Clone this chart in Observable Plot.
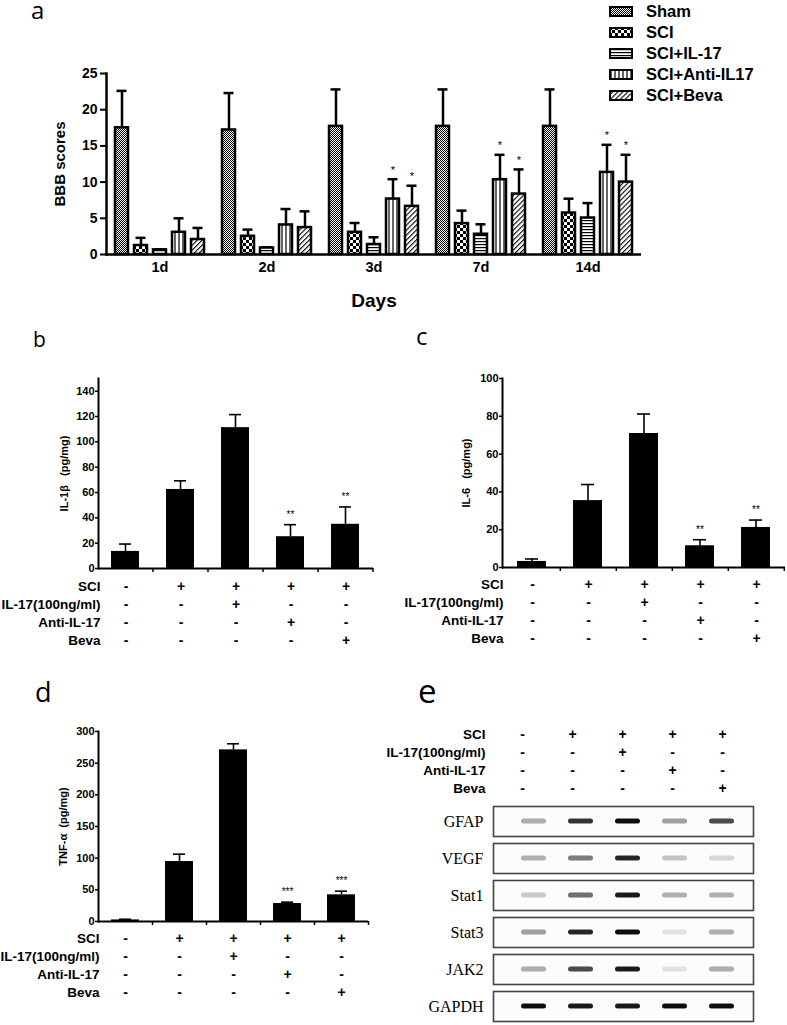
<!DOCTYPE html>
<html><head><meta charset="utf-8">
<script src="https://cdn.jsdelivr.net/npm/d3@7"></script>
<script src="https://cdn.jsdelivr.net/npm/@observablehq/plot@0.6"></script>
<style>
body{margin:0;background:#fff;}
#page{position:relative;width:787px;height:1025px;overflow:hidden;background:#fff;font-family:"Liberation Sans",Arial,sans-serif;}
#page svg{position:absolute;}
#legend{position:absolute;left:609px;top:1px;}
#legend .row{display:flex;align-items:center;height:21px;font-weight:bold;font-size:16.5px;}
#legend .row svg{position:static;margin-right:13px;}
</style></head><body>
<svg width="0" height="0" style="position:absolute">
<defs>
<pattern id="p-sham" width="2" height="2" patternUnits="userSpaceOnUse"><rect width="2" height="2" fill="#fff"/><rect width="1" height="1" fill="#000"/><rect x="1" y="1" width="1" height="1" fill="#000"/></pattern>
<pattern id="p-sci" width="6" height="6" patternUnits="userSpaceOnUse"><rect width="6" height="6" fill="#fff"/><rect width="3" height="3" fill="#000"/><rect x="3" y="3" width="3" height="3" fill="#000"/></pattern>
<pattern id="p-il17" width="3" height="3" patternUnits="userSpaceOnUse"><rect width="3" height="3" fill="#fff"/><rect y="1" width="3" height="1.2" fill="#000"/></pattern>
<pattern id="p-anti" width="4" height="4" patternUnits="userSpaceOnUse"><rect width="4" height="4" fill="#fff"/><rect x="1.4" width="1.2" height="4" fill="#000"/></pattern>
<pattern id="p-beva" width="3.5" height="3.5" patternUnits="userSpaceOnUse" patternTransform="rotate(45)"><rect width="3.5" height="3.5" fill="#fff"/><rect width="1.1" height="3.5" fill="#000"/></pattern>
<filter id="blur" x="-20%" y="-100%" width="140%" height="300%"><feGaussianBlur stdDeviation="0.7"/></filter>
</defs></svg>
<div id="page"></div>
<script>
// ---------- data ----------
const days = ["1d", "2d", "3d", "7d", "14d"];
const groups = ["Sham", "SCI", "SCI+IL-17", "SCI+Anti-IL17", "SCI+Beva"];
const shamMean = [17.5, 17.2, 17.7, 17.7, 17.7];
const shamSd   = [5.1, 5.1, 5.1, 5.1, 5.1];
const sciMean  = [1.24, 2.52, 3.07, 4.27, 5.73];
const sciSd    = [1.06, 0.92, 1.28, 1.79, 1.98];
const il17Mean = [0.64, 0.9, 1.38, 2.8, 5.04];
const il17Sd   = [0.08, 0.1, 1.0, 1.37, 2.06];
const antiMean = [3.07, 4.08, 7.66, 10.33, 11.34];
const antiSd   = [1.93, 2.2, 2.74, 3.44, 3.81];
const bevaMean = [2.07, 3.72, 6.65, 8.35, 10.0];
const bevaSd   = [1.6, 2.24, 2.85, 3.4, 3.77];
const antiSig  = ["", "", "*", "*", "*"];
const bevaSig  = ["", "", "*", "*", "*"];
const bbbTicks = [0, 5, 10, 15, 20, 25];

const conditions = ["c1", "c2", "c3", "c4", "c5"];
const factors = ["SCI", "IL-17(100ng/ml)", "Anti-IL-17", "Beva"];
const sciSigns   = ["-", "+", "+", "+", "+"];
const il17Signs  = ["-", "-", "+", "-", "-"];
const antiSigns  = ["-", "-", "-", "+", "-"];
const bevaSigns  = ["-", "-", "-", "-", "+"];

const il1bMean = [13.5, 62.4, 111.2, 25.1, 34.9];
const il1bSd   = [5.8, 6.8, 10.3, 9.5, 13.7];
const il1bSig  = ["", "", "", "**", "**"];
const il1bTicks = [0, 20, 40, 60, 80, 100, 120, 140];

const il6Mean = [3.2, 35.4, 70.9, 11.5, 21.2];
const il6Sd   = [1.3, 8.5, 10.3, 3.2, 3.9];
const il6Sig  = ["", "", "", "**", "**"];
const il6Ticks = [0, 20, 40, 60, 80, 100];

const tnfMean = [2.5, 94.7, 271, 28.4, 42.1];
const tnfSd   = [1.0, 11.6, 9.6, 2.1, 5.8];
const tnfSig  = ["", "", "", "***", "***"];
const tnfTicks = [0, 50, 100, 150, 200, 250, 300];

const proteins = ["GFAP", "VEGF", "Stat1", "Stat3", "JAK2", "GAPDH"];
const lanes = ["L1", "L2", "L3", "L4", "L5"];
const gfapBand  = [0.35, 0.85, 1.0, 0.4, 0.75];
const vegfBand  = [0.3, 0.55, 0.9, 0.22, 0.15];
const stat1Band = [0.2, 0.6, 0.95, 0.3, 0.3];
const stat3Band = [0.4, 0.9, 1.0, 0.1, 0.35];
const jak2Band  = [0.35, 0.75, 0.95, 0.1, 0.35];
const gapdhBand = [1.0, 0.95, 0.95, 1.0, 1.0];

// ---------- helpers ----------
const FONT = '"Liberation Sans", Arial, sans-serif';
const page = document.getElementById("page");
function place(svg, left, top) { svg.style.left = left + "px"; svg.style.top = top + "px"; page.appendChild(svg); return svg; }
const baseStyle = {fontFamily: FONT, color: "black", background: "transparent", overflow: "visible"};

// ---------- panel a ----------
const means = [shamMean, sciMean, il17Mean, antiMean, bevaMean];
const sds = [shamSd, sciSd, il17Sd, antiSd, bevaSd];
const sigs = [days.map(() => ""), days.map(() => ""), days.map(() => ""), antiSig, bevaSig];
const bbb = [];
days.forEach((d, i) => groups.forEach((g, j) => bbb.push({day: d, g, m: means[j][i], e: means[j][i] + sds[j][i], s: sigs[j][i]})));
const patterns = ["url(#p-sham)", "url(#p-sci)", "url(#p-il17)", "url(#p-anti)", "url(#p-beva)"];

const chartA = Plot.plot({
  width: 787, height: 310, marginLeft: 105, marginRight: 146, marginTop: 73, marginBottom: 56,
  style: baseStyle,
  fx: {domain: days, padding: 0},
  x: {domain: groups, paddingInner: 0.333, paddingOuter: 0.415, axis: null},
  y: {domain: [0, 25]},
  color: {type: "ordinal", domain: groups, range: patterns},
  marks: [
    Plot.ruleX(bbb, {fx: "day", x: "g", y1: "m", y2: "e", strokeWidth: 2.5}),
    Plot.tickY(bbb, {fx: "day", x: "g", y: "e", strokeWidth: 2.5, insetLeft: 1.5, insetRight: 1.5}),
    Plot.barY(bbb, {fx: "day", x: "g", y: "m", fill: "g", stroke: "black", strokeWidth: 2.5}),
    Plot.text(bbb, {fx: "day", x: "g", y: "e", text: "s", dy: -9, fontSize: 11, fill: "black"}),
    Plot.ruleY([0], {strokeWidth: 2.5}),
    Plot.frame({anchor: "left", facetAnchor: "left", strokeWidth: 2.5}),
    Plot.axisY({ticks: bbbTicks, tickSize: 6, tickPadding: 3, strokeWidth: 2, fontSize: 14, fontWeight: "bold",
      label: "BBB scores", labelAnchor: "center", labelOffset: 52, labelArrow: "none"}),
    Plot.axisFx({anchor: "bottom", tickSize: 0, tickPadding: 7, fontSize: 14.5, fontWeight: "bold",
      label: "Days", labelAnchor: "center", labelOffset: 52, labelArrow: "none"})
  ]
});
place(chartA, 0, 0);
chartA.querySelectorAll('g[aria-label="fx-axis label"] text, g[aria-label="fx-axis label"]').forEach(n => n.setAttribute("font-size", 19));
chartA.querySelectorAll('g[aria-label="y-axis label"] text, g[aria-label="y-axis label"]').forEach(n => n.setAttribute("font-size", 15));

// legend
const legend = document.createElement("div");
legend.id = "legend";
groups.forEach((g, j) => {
  const row = document.createElement("div");
  row.className = "row";
  row.innerHTML = `<svg width="24" height="11"><rect x="1" y="1" width="22" height="9" fill="${patterns[j]}" stroke="black" stroke-width="2"/></svg><span>${g}</span>`;
  legend.appendChild(row);
});
page.appendChild(legend);

// ---------- panels b, c, d ----------
const signRows = [sciSigns, il17Signs, antiSigns, bevaSigns];
function cytoPanel({left, top, width, height, mL, mR, mT, mB, max, ticks, mean, sd, sig, label, labelOffset}) {
  const data = conditions.map((c, i) => ({c, m: mean[i], e: mean[i] + sd[i], s: sig[i]}));
  const step = (width - mL - mR) / conditions.length;
  const svg = Plot.plot({
    width, height, marginLeft: mL, marginRight: mR, marginTop: mT, marginBottom: mB,
    style: baseStyle,
    x: {type: "band", domain: conditions, paddingInner: 0.49, paddingOuter: 0.245},
    y: {domain: [0, max]},
    marks: [
      Plot.ruleX(data, {x: "c", y1: "m", y2: "e", strokeWidth: 1.6}),
      Plot.tickY(data, {x: "c", y: "e", strokeWidth: 1.6, insetLeft: 8, insetRight: 8}),
      Plot.barY(data, {x: "c", y: "m", fill: "black"}),
      Plot.text(data, {x: "c", y: "e", text: "s", dy: -10, fontSize: 10, fill: "black"}),
      Plot.ruleY([0], {strokeWidth: 2}),
      Plot.frame({anchor: "left", strokeWidth: 2}),
      Plot.axisX({tickSize: 4, tickFormat: () => "", dx: step / 2, strokeWidth: 1.5, label: null}),
      Plot.axisY({ticks, tickSize: 3, tickPadding: 1, strokeWidth: 1.5, fontSize: 11, fontWeight: "bold",
        label, labelAnchor: "center", labelOffset, labelArrow: "none"})
    ]
  });
  return place(svg, left, top);
}
function signTable({left, top, width, mL, mR, rowH, tickPadding}) {
  const data = [];
  factors.forEach((f, r) => conditions.forEach((c, i) => data.push({f, c, s: signRows[r][i]})));
  const svg = Plot.plot({
    width, height: rowH * factors.length, marginLeft: mL, marginRight: mR, marginTop: 0, marginBottom: 0,
    style: baseStyle,
    x: {type: "band", domain: conditions, padding: 0, axis: null},
    y: {type: "band", domain: factors, padding: 0},
    marks: [
      Plot.text(data, {x: "c", y: "f", text: "s", fontSize: 14, fontWeight: "bold"}),
      Plot.axisY({tickSize: 0, tickPadding, fontSize: 13.5, fontWeight: "bold", label: null})
    ]
  });
  return place(svg, left, top);
}

cytoPanel({left: 0, top: 360, width: 390, height: 216, mL: 98, mR: 17, mT: 18, mB: 8, max: 150, ticks: il1bTicks,
  mean: il1bMean, sd: il1bSd, sig: il1bSig, label: "IL-1β   (pg/mg)", labelOffset: 38});
signTable({left: 0, top: 576, width: 390, mL: 98, mR: 17, rowH: 18.4, tickPadding: -2});

cytoPanel({left: 390, top: 360, width: 397, height: 216, mL: 112, mR: 2, mT: 18, mB: 9, max: 100, ticks: il6Ticks,
  mean: il6Mean, sd: il6Sd, sig: il6Sig, label: "IL-6   (pg/mg)", labelOffset: 40});
signTable({left: 390, top: 574, width: 397, mL: 112, mR: 2, rowH: 18.4, tickPadding: -1});

cytoPanel({left: 0, top: 715, width: 390, height: 214, mL: 98, mR: 22, mT: 16, mB: 8, max: 300, ticks: tnfTicks,
  mean: tnfMean, sd: tnfSd, sig: tnfSig, label: "TNF-α  (pg/mg)", labelOffset: 39});
signTable({left: 0, top: 928, width: 390, mL: 98, mR: 22, rowH: 18.4, tickPadding: -1});

// ---------- panel e ----------
signTable({left: 390, top: 725, width: 397, mL: 107, mR: 40, rowH: 18, tickPadding: 12});

const bandRows = [gfapBand, vegfBand, stat1Band, stat3Band, jak2Band, gapdhBand];
const blot = [];
proteins.forEach((p, r) => lanes.forEach((l, i) => blot.push({p, l, v: bandRows[r][i]})));
const chartE = Plot.plot({
  width: 397, height: 225, marginLeft: 103, marginRight: 34, marginTop: 6, marginBottom: 4,
  style: baseStyle,
  fy: {domain: proteins, paddingInner: 0.19, paddingOuter: 0},
  x: {domain: lanes, paddingInner: 0, paddingOuter: 0.25, align: 0.69, axis: null},
  opacity: {type: "identity"},
  marks: [
    Plot.frame({stroke: "#444", strokeWidth: 1.6, fill: "#fcfcfc"}),
    Plot.cell(blot, {fy: "p", x: "l", fill: "#111", fillOpacity: "v", insetLeft: 11, insetRight: 11, insetTop: 12.5, insetBottom: 12.5, rx: 2.5}),
    Plot.axisFy({anchor: "left", tickSize: 0, tickPadding: 10, fontFamily: '"Liberation Serif", "Times New Roman", serif', fontSize: 16, label: null})
  ]
});
place(chartE, 390, 800);
chartE.querySelectorAll('g[aria-label="cell"]').forEach(g => g.setAttribute("filter", "url(#blur)"));

// ---------- panel letters ----------
const ns = "http://www.w3.org/2000/svg";
const over = document.createElementNS(ns, "svg");
over.setAttribute("width", 787); over.setAttribute("height", 1025);
over.style.left = "0px"; over.style.top = "0px"; over.style.pointerEvents = "none";
[["a", 31, 19, 24], ["b", 33, 347, 21], ["c", 416, 345, 24], ["d", 35, 702, 27], ["e", 418, 703, 33]].forEach(([t, x, y, s]) => {
  const el = document.createElementNS(ns, "text");
  el.setAttribute("x", x); el.setAttribute("y", y); el.setAttribute("font-size", s);
  el.setAttribute("font-family", '"Open Sans", "Noto Sans", sans-serif');
  el.textContent = t; over.appendChild(el);
});
page.appendChild(over);
</script>
</body></html>
